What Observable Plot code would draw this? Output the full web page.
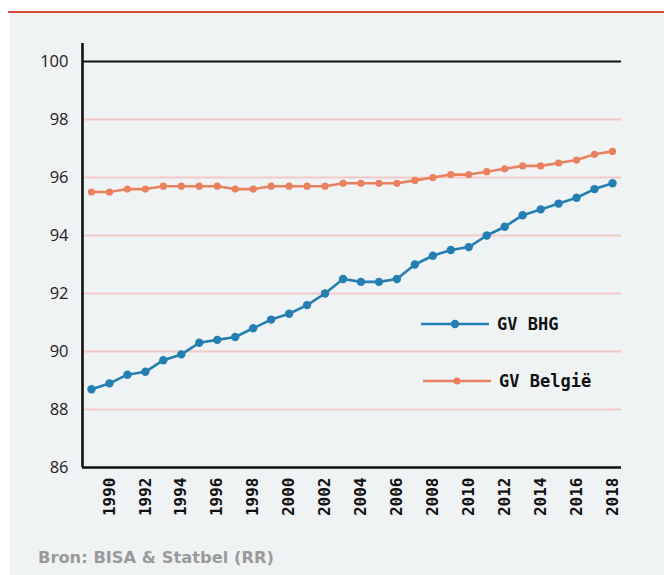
<!DOCTYPE html>
<html><head><meta charset="utf-8">
<script src="https://cdn.jsdelivr.net/npm/d3@7"></script>
<script src="https://cdn.jsdelivr.net/npm/@observablehq/plot@0.6"></script>
<style>
body{margin:0;background:#fff;}
#wrap{position:relative;width:664px;height:575px;overflow:hidden;}
#redline{position:absolute;left:8px;right:0;top:11px;height:2px;background:#d9493b;}
#panel{position:absolute;left:10px;right:0;top:13px;bottom:0;background:#f0f3f4;}
#chart{position:absolute;left:0;top:0;}
#caption{position:absolute;left:38px;top:548px;font:bold 16.3px "DejaVu Sans",sans-serif;color:#9a9a9a;}
</style></head>
<body>
<div id="wrap"><div id="redline"></div><div id="panel"></div><div id="chart"></div><div id="caption">Bron: BISA &amp; Statbel (RR)</div></div>
<script>
const years = d3.range(1989, 2019);
const bhg = [88.7,88.9,89.2,89.3,89.7,89.9,90.3,90.4,90.5,90.8,91.1,91.3,91.6,92.0,92.5,92.4,92.4,92.5,93.0,93.3,93.5,93.6,94.0,94.3,94.7,94.9,95.1,95.3,95.6,95.8];
const belgie = [95.5,95.5,95.6,95.6,95.7,95.7,95.7,95.7,95.6,95.6,95.7,95.7,95.7,95.7,95.8,95.8,95.8,95.8,95.9,96.0,96.1,96.1,96.2,96.3,96.4,96.4,96.5,96.6,96.8,96.9];
const seriesNames = ["GV BHG","GV België"];
const colors = ["#237fb1","#e9815f"];
const yTicks = [86,88,90,92,94,96,98,100];
const xTicks = d3.range(1990, 2019, 2);
const gridValues = [88,90,92,94,96,98];

const dBhg = years.map((y,i)=>({year:y,v:bhg[i]}));
const dBel = years.map((y,i)=>({year:y,v:belgie[i]}));

const plot = Plot.plot({
  width:664, height:575,
  marginLeft:82, marginRight:43, marginTop:43, marginBottom:108,
  style:{background:"transparent", overflow:"visible"},
  x:{domain:[1988.5,2018.5], label:null},
  y:{domain:[86,100.62], label:null},
  marks:[
    Plot.ruleY(gridValues,{stroke:"#f3c9c8",strokeWidth:2.2}),
    Plot.ruleY([100],{stroke:"#111",strokeWidth:2}),
    Plot.line(dBel,{x:"year",y:"v",stroke:colors[1],strokeWidth:2.6}),
    Plot.dot(dBel,{x:"year",y:"v",fill:colors[1],r:3.6}),
    Plot.line(dBhg,{x:"year",y:"v",stroke:colors[0],strokeWidth:2.6}),
    Plot.dot(dBhg,{x:"year",y:"v",fill:colors[0],r:4.2}),
    Plot.axisY({ticks:yTicks,tickSize:0,tickPadding:14,fontSize:16.5,fill:"#222",
      fontFamily:"'Open Sans',sans-serif"}),
    Plot.axisX({ticks:xTicks,tickSize:0,tickPadding:10,tickRotate:-90,tickFormat:d=>String(d),
      fontSize:16,fill:"#111",fontFamily:"'DejaVu Sans Mono',monospace",fontWeight:"bold"}),
    Plot.ruleX([1988.5],{stroke:"#111",strokeWidth:2.6}),
    Plot.ruleY([86],{stroke:"#111",strokeWidth:2.6})
  ]
});
document.getElementById("chart").appendChild(plot);

// legend
const svg = d3.select(plot);
const leg = svg.append("g").attr("font-family","'DejaVu Sans Mono',monospace").attr("font-weight","bold").attr("font-size",17).attr("text-anchor","start");
const legPos = [{x1:421,x2:489,y:324},{x1:423,x2:491,y:381}];
seriesNames.forEach((name,i)=>{
  const p = legPos[i];
  leg.append("line").attr("x1",p.x1).attr("x2",p.x2).attr("y1",p.y).attr("y2",p.y).attr("stroke",colors[i]).attr("stroke-width",2.6);
  leg.append("circle").attr("cx",(p.x1+p.x2)/2).attr("cy",p.y).attr("r",i==0?4.2:3.6).attr("fill",colors[i]);
  leg.append("text").attr("x",p.x2+8).attr("y",p.y).attr("dy","0.35em").attr("fill","#111").attr("text-anchor","start").text(name);
});
</script>
</body></html>
